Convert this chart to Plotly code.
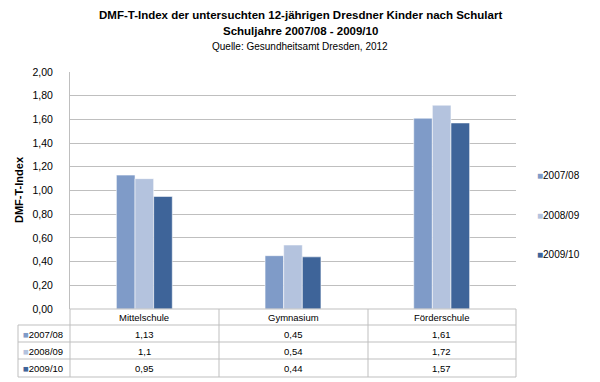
import plotly.graph_objects as go

categories = ["Mittelschule", "Gymnasium", "Förderschule"]
series_names = ["2007/08", "2008/09", "2009/10"]
values_2007 = [1.13, 0.45, 1.61]
values_2008 = [1.1, 0.54, 1.72]
values_2009 = [0.95, 0.44, 1.57]
colors = ["#7F9BC8", "#B4C3DE", "#3E6499"]
y_ticks = [0.0, 0.2, 0.4, 0.6, 0.8, 1.0, 1.2, 1.4, 1.6, 1.8, 2.0]

series_values = [values_2007, values_2008, values_2009]

FONT = "Liberation Sans, Arial, sans-serif"
# page body has an 8px default margin; work in window pixels and convert
OFF = 8
W, H = 592, 374
L, T = 70 - OFF, 72 - OFF
R = W - (516 - OFF)
B = H - (309 - OFF)
PW = W - L - R
PH = H - T - B


def px(x):
    return (x - OFF - L) / PW


def py(y):
    return (H - B - (y - OFF)) / PH


def fmt(v):
    return str(v).replace(".", ",")


def ann(text, x, y, size, xanchor="center", xref="paper", angle=0):
    return dict(text=text, x=x, y=y, xref=xref, yref="paper", showarrow=False,
                xanchor=xanchor, yanchor="middle", textangle=angle,
                font=dict(size=size, color="#000000", family=FONT))


fig = go.Figure()
for name, vals, col in zip(series_names, series_values, colors):
    fig.add_trace(go.Bar(
        x=categories, y=vals, name=name,
        marker=dict(color=col, line=dict(color="rgba(255,255,255,0.55)", width=1)),
        showlegend=False,
    ))

annotations = []
# Titles
annotations.append(ann("<b>DMF-T-Index der untersuchten 12-jährigen Dresdner Kinder nach Schulart</b>",
                       px(300), py(15), 11.5))
annotations.append(ann("<b>Schuljahre 2007/08 - 2009/10</b>", px(300), py(31), 11.5))
annotations.append(ann("Quelle: Gesundheitsamt Dresden, 2012", px(300), py(46), 10))
# Y axis title
annotations.append(ann("<b>DMF-T-Index</b>", px(19), py(190), 11, angle=-90))

# Right legend
legend_y = [175, 215, 254]
for name, col, yy in zip(series_names, colors, legend_y):
    annotations.append(ann(f"<span style='color:{col}'>■</span>{name}", px(535), py(yy), 10,
                           xanchor="left"))

# Data table
row_centers = [334, 351, 368]
cat_row_center = 317
for c in categories:
    annotations.append(ann(c, c, py(cat_row_center), 9.5, xref="x"))
for name, vals, col, yc in zip(series_names, series_values, colors, row_centers):
    annotations.append(ann(f"<span style='color:{col}'>■</span>{name}", px(21), py(yc), 9.5,
                           xanchor="left"))
    for c, v in zip(categories, vals):
        annotations.append(ann(fmt(v), c, py(yc), 9.5, xref="x"))

line_col = "#BFBFBF"
shapes = []


def hline(x0, x1, y):
    return dict(type="line", xref="paper", yref="paper", x0=px(x0), x1=px(x1), y0=py(y), y1=py(y),
                line=dict(color=line_col, width=1))


def vline(x, y0, y1):
    return dict(type="line", xref="paper", yref="paper", x0=px(x), x1=px(x), y0=py(y0), y1=py(y1),
                line=dict(color=line_col, width=1))


shapes.append(hline(70, 516, 309))
for yy in [325, 342, 359, 377]:
    shapes.append(hline(18, 516, yy))
shapes.append(vline(18, 325, 377))
for xx in [70, 219, 368, 516]:
    shapes.append(vline(xx, 309, 377))

fig.update_layout(
    width=W, height=H,
    margin=dict(l=L, r=R, t=T, b=B, autoexpand=False),
    paper_bgcolor="white", plot_bgcolor="white",
    barmode="group", bargap=0.624, bargroupgap=0,
    separators=",.",
    font=dict(family=FONT, size=10.5, color="#000000"),
    xaxis=dict(range=[-0.5, 2.5], showticklabels=False, showgrid=False, zeroline=False,
               showline=False, ticks="", automargin=False),
    yaxis=dict(range=[0, 2.0], tickvals=y_ticks, tickformat=".2f", showgrid=True,
               gridcolor=line_col, gridwidth=1, zeroline=False, showline=True,
               linecolor=line_col, linewidth=1, ticks="", ticklen=0, automargin=False,
               ticklabelstandoff=14,
               tickfont=dict(size=10.5, family=FONT, color="#000000")),
    annotations=annotations,
    shapes=shapes,
)

fig.write_html("out.html")
